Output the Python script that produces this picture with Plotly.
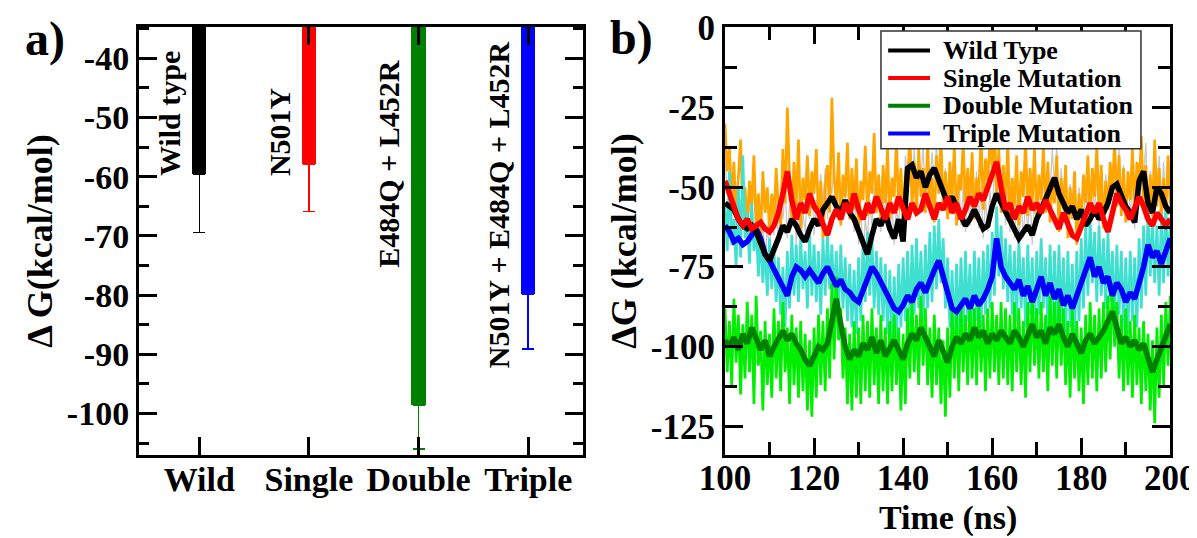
import plotly.graph_objects as go

# ---------------- data, panel a) ----------------
categories = ["Wild", "Single", "Double", "Triple"]
bar_labels = ["Wild type", "N501Y", "E484Q + L452R", "N501Y + E484Q + L452R"]
dg_mean = [-59.6, -57.9, -98.6, -79.8]
dg_err = [9.8, 8.0, 7.4, 9.3]
bar_colors = ["#000000", "#ff0000", "#008000", "#0000ff"]
label_y = [-49.3, -52.4, -57.8, -64.7]

# ---------------- data, panel b) ----------------
t_smooth = list(range(100, 201))
t_raw = [100 + 0.5 * i for i in range(201)]

wild_smooth = [
    -55, -56, -57, -60, -62, -63, -62, -64, -68, -71,
    -73, -70, -66, -62, -64, -60, -62, -65, -67, -63,
    -60, -62, -57, -55, -53, -56, -58, -54, -58, -60,
    -64, -67, -71, -65, -60, -62, -58, -63, -66, -60,
    -67, -44, -43, -47, -45, -50, -46, -44, -48, -52,
    -55, -53, -56, -58, -62, -60, -57, -60, -63, -62,
    -56, -52, -55, -58, -60, -63, -66, -64, -62, -65,
    -60, -57, -54, -50, -47, -52, -55, -58, -56, -60,
    -57, -62, -60, -57, -60, -58, -55, -50, -49, -53,
    -56, -58, -61, -48, -45, -55, -58, -50, -52, -56,
    -58]
single_smooth = [
    -48, -52, -55, -60, -62, -60, -63, -62, -61, -63,
    -64, -62, -58, -52, -45, -54, -60, -55, -58, -52,
    -56, -58, -62, -65, -60, -57, -60, -55, -58, -52,
    -57, -60, -55, -58, -53, -57, -60, -55, -58, -53,
    -56, -60, -55, -58, -57, -52, -56, -60, -55, -57,
    -53, -58, -55, -60, -57, -53, -56, -52, -54, -50,
    -46, -42, -50, -57, -55, -60, -56, -58, -53, -57,
    -55, -58, -54, -57, -60, -63, -58, -62, -65, -66,
    -62, -58, -55, -58, -55, -60, -64, -58, -52, -55,
    -57, -60, -57, -53, -56, -60, -62, -58, -60, -62,
    -60]
double_smooth = [
    -98, -100, -97, -101, -96, -99, -94, -97, -101, -98,
    -103, -100, -97, -95, -98, -96, -99, -101, -104, -106,
    -103, -100, -101, -99, -92, -85, -93, -100, -104, -101,
    -103, -99, -101, -97, -102, -98, -103, -100, -98, -101,
    -104, -99, -96, -98, -94, -97, -100, -103, -98, -101,
    -105, -100, -97, -99, -96, -98, -94, -97, -95, -99,
    -96, -98, -95, -97, -99, -95, -97, -100, -96, -93,
    -97, -95, -99, -94, -96, -93, -97, -100, -96, -99,
    -102, -98, -96, -99, -97, -95, -92, -89, -94, -99,
    -97, -100, -98, -101, -99, -103, -108, -104, -100, -97,
    -93]
triple_smooth = [
    -62, -64, -67, -66, -68, -67, -65, -63, -66, -71,
    -73, -76, -79, -81, -84, -78, -75, -76, -78, -76,
    -78, -80, -77, -75, -78, -81, -79, -82, -83, -85,
    -86, -82, -78, -75, -77, -80, -82, -86, -88, -89,
    -87, -84, -86, -82, -80, -83, -79, -76, -73, -78,
    -84, -88, -89, -87, -85, -88, -84, -87, -85, -82,
    -78, -66, -75, -78, -80, -82, -79, -84, -81, -86,
    -82, -78, -84, -80, -85, -82, -87, -84, -88, -84,
    -79, -76, -72, -78, -75, -80, -78, -84, -80, -82,
    -86, -83, -85, -80, -75, -68, -72, -70, -74, -70,
    -66]

# raw (unsmoothed) traces, every 0.5 ns
wild_raw = [
    -40, -52, -45, -60, -48, -62, -50, -57, -63, -52,
    -66, -55, -60, -48, -68, -57, -72, -60, -74, -62,
    -70, -58, -65, -52, -68, -56, -60, -50, -66, -55,
    -62, -50, -68, -56, -70, -58, -64, -52, -60, -48,
    -65, -54, -58, -46, -55, -44, -60, -48, -52, -42,
    -58, -47, -62, -50, -56, -44, -60, -49, -64, -52,
    -68, -56, -72, -60, -66, -54, -62, -50, -58, -46,
    -64, -52, -60, -48, -66, -55, -68, -56, -62, -50,
    -66, -40, -48, -36, -50, -38, -52, -40, -48, -37,
    -55, -42, -50, -39, -48, -36, -52, -41, -56, -44,
    -58, -46, -55, -43, -60, -47, -62, -50, -64, -52,
    -62, -48, -58, -45, -63, -50, -66, -53, -64, -51,
    -58, -45, -54, -42, -58, -46, -62, -49, -64, -51,
    -66, -54, -68, -55, -66, -53, -64, -52, -68, -55,
    -62, -50, -58, -45, -55, -42, -52, -38, -50, -37,
    -56, -44, -58, -46, -62, -49, -58, -45, -63, -50,
    -60, -47, -64, -51, -62, -49, -58, -45, -62, -48,
    -60, -46, -56, -43, -52, -39, -50, -38, -56, -43,
    -58, -45, -60, -48, -63, -50, -52, -38, -48, -36,
    -58, -45, -60, -48, -53, -40, -55, -42, -58, -45,
    -60]
single_raw = [
    -30, -45, -38, -55, -42, -60, -47, -35, -58, -50,
    -63, -48, -56, -40, -62, -52, -66, -45, -58, -50,
    -64, -52, -60, -44, -57, -62, -38, -55, -25, -48,
    -60, -42, -56, -35, -63, -47, -54, -40, -59, -45,
    -52, -38, -61, -48, -66, -50, -43, -58, -22, -47,
    -55, -39, -62, -46, -53, -36, -60, -44, -57, -41,
    -63, -48, -54, -37, -59, -45, -52, -33, -58, -46,
    -61, -43, -55, -38, -60, -47, -53, -35, -57, -44,
    -62, -45, -50, -32, -56, -42, -59, -38, -53, -44,
    -58, -36, -55, -47, -61, -40, -52, -34, -57, -45,
    -60, -42, -54, -37, -62, -46, -51, -35, -58, -44,
    -55, -39, -60, -47, -52, -33, -57, -41, -48, -35,
    -44, -30, -52, -38, -58, -43, -55, -36, -61, -47,
    -56, -40, -62, -45, -53, -35, -59, -44, -55, -38,
    -60, -46, -54, -37, -58, -42, -61, -48, -55, -40,
    -64, -47, -57, -43, -66, -50, -60, -45, -68, -52,
    -62, -46, -55, -40, -60, -44, -53, -37, -58, -43,
    -63, -48, -57, -42, -52, -35, -56, -40, -59, -44,
    -61, -45, -54, -38, -58, -42, -50, -34, -57, -43,
    -62, -46, -59, -35, -56, -44, -60, -47, -58, -40,
    -55]
triple_raw = [
    -55, -70, -45, -68, -60, -75, -50, -72, -40, -66,
    -58, -74, -55, -70, -62, -78, -65, -80, -68, -84,
    -66, -82, -70, -86, -72, -90, -75, -94, -70, -88,
    -65, -84, -68, -86, -66, -82, -70, -88, -65, -84,
    -68, -86, -70, -90, -66, -84, -64, -82, -68, -86,
    -70, -90, -68, -88, -72, -92, -74, -94, -76, -96,
    -72, -92, -68, -86, -64, -84, -66, -88, -70, -90,
    -72, -92, -74, -96, -76, -98, -78, -98, -74, -94,
    -72, -92, -70, -94, -68, -90, -66, -88, -70, -92,
    -68, -88, -64, -86, -62, -82, -60, -80, -66, -88,
    -72, -94, -76, -98, -74, -96, -72, -94, -70, -92,
    -74, -96, -70, -92, -72, -94, -70, -90, -68, -88,
    -64, -84, -56, -78, -62, -82, -66, -86, -68, -90,
    -70, -92, -66, -88, -72, -94, -68, -90, -72, -96,
    -70, -90, -66, -88, -72, -94, -68, -92, -70, -94,
    -68, -92, -72, -96, -70, -94, -74, -98, -70, -92,
    -66, -88, -62, -84, -60, -80, -64, -86, -62, -84,
    -66, -88, -64, -86, -70, -92, -68, -90, -70, -94,
    -72, -96, -70, -92, -72, -94, -66, -88, -62, -84,
    -58, -78, -60, -80, -62, -84, -58, -80, -56, -78,
    -60]
double_raw = [
    -88, -108, -92, -112, -85, -105, -90, -115, -93, -110,
    -86, -108, -90, -118, -84, -106, -95, -120, -92, -112,
    -96, -116, -88, -110, -92, -114, -86, -108, -94, -118,
    -90, -112, -94, -116, -92, -114, -96, -120, -98, -122,
    -94, -116, -90, -112, -92, -114, -88, -110, -80, -104,
    -78, -98, -88, -110, -94, -118, -96, -120, -92, -116,
    -94, -118, -90, -114, -92, -116, -88, -112, -94, -118,
    -90, -114, -94, -118, -92, -114, -90, -112, -94, -120,
    -96, -118, -88, -110, -86, -108, -90, -112, -84, -106,
    -88, -112, -94, -116, -90, -112, -94, -118, -98, -122,
    -94, -116, -88, -110, -90, -114, -86, -108, -90, -112,
    -86, -110, -88, -112, -86, -108, -90, -114, -88, -110,
    -86, -108, -90, -112, -86, -110, -88, -112, -90, -114,
    -86, -108, -88, -112, -92, -116, -86, -108, -84, -106,
    -88, -110, -86, -108, -90, -114, -84, -106, -86, -110,
    -84, -106, -88, -112, -92, -116, -88, -110, -92, -114,
    -94, -118, -90, -112, -86, -110, -90, -114, -88, -110,
    -86, -108, -84, -104, -80, -100, -86, -110, -90, -114,
    -88, -112, -92, -116, -90, -112, -94, -118, -92, -114,
    -96, -120, -98, -124, -94, -116, -90, -112, -86, -106,
    -84]

FONT = "Liberation Serif"

fig = go.Figure()

# panel a) bars with one sided error bars
for i in range(len(categories)):
    fig.add_trace(go.Bar(
        x=[i + 1], y=[dg_mean[i]], width=0.13,
        marker=dict(color=bar_colors[i], line=dict(width=0)),
        error_y=dict(type="data", symmetric=False, array=[0], arrayminus=[dg_err[i]],
                     color=bar_colors[i], thickness=1.5, width=6),
        xaxis="x", yaxis="y", showlegend=False))

# panel b) raw traces first, smoothed lines on top
raw_sets = [(wild_raw, "#c8c8c8", 1.3), (single_raw, "#ffa500", 2.7),
            (triple_raw, "#40e0d0", 2.7), (double_raw, "#00ee00", 2.7)]
for vals, col, lw in raw_sets:
    fig.add_trace(go.Scatter(x=t_raw, y=vals, mode="lines",
                             line=dict(color=col, width=lw),
                             xaxis="x2", yaxis="y2", showlegend=False, hoverinfo="skip"))

smooth_sets = [(double_smooth, "#008000", "Double Mutation"),
               (triple_smooth, "#0000ff", "Triple Mutation"),
               (wild_smooth, "#000000", "Wild Type"),
               (single_smooth, "#ff0000", "Single Mutation")]
for vals, col, name in smooth_sets:
    fig.add_trace(go.Scatter(x=t_smooth, y=vals, mode="lines", name=name,
                             line=dict(color=col, width=5.5),
                             xaxis="x2", yaxis="y2", showlegend=False))

axis_common = dict(showline=True, linewidth=3, linecolor="black", mirror="ticks",
                   ticks="inside", tickwidth=3, tickcolor="black",
                   showgrid=False, zeroline=False, automargin=False,
                   ticklabeloverflow="allow")

left_ticks = [-100, -90, -80, -70, -60, -50, -40]
right_ticks = [-125, -100, -75, -50, -25, 0]
y_dom = [0.1691, 0.9647]

fig.update_layout(
    template="none",
    width=1197, height=538, autosize=False,
    margin=dict(l=0, r=0, t=0, b=0),
    paper_bgcolor="white", plot_bgcolor="white",
    font=dict(family=FONT, color="black", weight="bold"),
    bargap=0, barmode="overlay", showlegend=False,
    xaxis=dict(axis_common, domain=[0.1094, 0.4804], range=[0.45, 4.5],
               tickvals=[1, 2, 3, 4], ticktext=categories, ticklen=18,
               tickfont=dict(size=34), ticklabelstandoff=-8, anchor="y"),
    yaxis=dict(axis_common, domain=y_dom, range=[-107, -34.7],
               tickvals=left_ticks, ticktext=[str(v) for v in left_ticks], ticklen=18,
               tickfont=dict(size=34), anchor="x",
               minor=dict(dtick=5, tick0=0, ticks="inside", ticklen=10, tickwidth=3,
                          tickcolor="black", showgrid=False),
               title=dict(text="Δ G(kcal/mol)", font=dict(size=36), standoff=4)),
    xaxis2=dict(axis_common, domain=[0.599, 0.971], range=[100, 200],
                tickvals=[100, 120, 140, 160, 180, 200], ticklen=17,
                tickfont=dict(size=35), ticklabelstandoff=-10, anchor="y2",
                minor=dict(dtick=10, tick0=0, ticks="inside", ticklen=13, tickwidth=3,
                           tickcolor="black", showgrid=False)),
    yaxis2=dict(axis_common, domain=y_dom, range=[-134, 0.3],
                tickvals=right_ticks, ticktext=[str(v) for v in right_ticks], ticklen=18,
                tickfont=dict(size=35), anchor="x2",
                minor=dict(dtick=12.5, tick0=0, ticks="inside", ticklen=12, tickwidth=3,
                           tickcolor="black", showgrid=False),
                title=dict(text="ΔG (kcal/mol)", font=dict(size=36), standoff=4)),
)

# legend box of panel b), drawn by hand to get the compact xmgrace look
leg_x0, leg_x1, leg_top, leg_step = 0.7293, 0.9465, 0.9572, 0.0515
fig.add_shape(type="rect", xref="paper", yref="paper",
              x0=leg_x0, x1=leg_x1, y0=leg_top - 4 * leg_step - 0.013, y1=leg_top,
              line=dict(color="#333333", width=1.5), fillcolor="white", layer="above")
legend_order = [2, 3, 0, 1]  # Wild, Single, Double, Triple
for row, k in enumerate(legend_order):
    vals, col, name = smooth_sets[k]
    yy = leg_top - 0.036 - row * leg_step
    fig.add_shape(type="line", xref="paper", yref="paper",
                  x0=leg_x0 + 0.006, x1=leg_x0 + 0.041, y0=yy, y1=yy,
                  line=dict(color=col, width=4), layer="above")
    fig.add_annotation(x=leg_x0 + 0.050, y=yy, xref="paper", yref="paper", text=name,
                       showarrow=False, xanchor="left", yanchor="middle",
                       font=dict(size=26))

# x title of panel b) placed just under the tick labels
fig.add_annotation(x=0.785, y=0.052, xref="paper", yref="paper", text="Time (ns)",
                   showarrow=False, xanchor="center", yanchor="middle",
                   font=dict(size=34))

# rotated labels on the bars
for i, txt in enumerate(bar_labels):
    fig.add_annotation(x=i + 1 - 0.27, y=label_y[i], xref="x", yref="y",
                       text=txt, textangle=-90, showarrow=False,
                       xanchor="center", yanchor="middle", font=dict(size=30))

# panel letters
fig.add_annotation(x=0.031, y=0.942, xref="paper", yref="paper", text="a)",
                   showarrow=False, xanchor="center", yanchor="middle", font=dict(size=48))
fig.add_annotation(x=0.521, y=0.945, xref="paper", yref="paper", text="b)",
                   showarrow=False, xanchor="center", yanchor="middle", font=dict(size=48))

fig.write_html("out.html")
